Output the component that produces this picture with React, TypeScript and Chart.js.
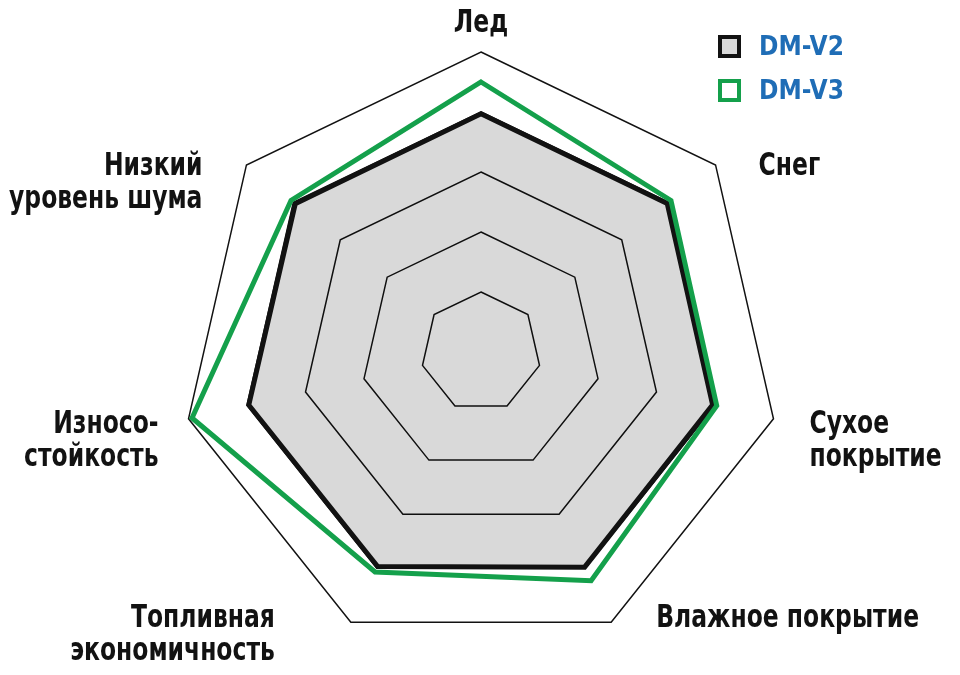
import React, { useEffect, useRef } from 'react';
import { Chart, registerables } from 'chart.js';

Chart.register(...registerables);

// ---- data ----
const categories: (string | string[])[] = [
  'Лед',
  'Снег',
  ['Сухое', 'покрытие'],
  'Влажное покрытие',
  ['Топливная', 'экономичность'],
  ['Износо-', 'стойкость'],
  ['Низкий', 'уровень шума'],
];
const seriesNames = ['DM-V2', 'DM-V3'];
const dmV2 = [3.97, 3.97, 3.96, 3.98, 3.97, 3.97, 3.96];
const dmV3 = [4.5, 4.05, 4.03, 4.23, 4.07, 4.94, 4.05];
const scaleMin = 0;
const scaleMax = 5;
const scaleStep = 1;

// ---- style / layout ----
const LABEL_FONT = "bold 32px 'DejaVu Sans Condensed', 'DejaVu Sans', sans-serif";
const LEGEND_FONT = "'DejaVu Sans Condensed', 'DejaVu Sans', sans-serif";
const LABEL_SQUEEZE = 0.815;
const LABEL_LINE = 33;
const LABEL_ALIGN: CanvasTextAlign[] = ['center', 'left', 'left', 'left', 'right', 'right', 'right'];
const LABEL_DX = [0, 43, 36, 45, -76, -30, -44];
const LABEL_DY = [-20, 10, 14, 5, 5, 14, 10];
const GRAY_FILL = 'rgba(0,0,0,0.15)';
const GREEN = '#14a04b';
const BLUE = '#1f6db6';
const INK = '#121212';

const axisLabelPlugin = {
  id: 'axisLabelPlugin',
  afterDraw(chart: any) {
    const scale = chart.scales.r;
    const ctx: CanvasRenderingContext2D = chart.ctx;
    ctx.save();
    ctx.font = LABEL_FONT;
    ctx.fillStyle = INK;
    ctx.textBaseline = 'alphabetic';
    (chart.data.labels as (string | string[])[]).forEach((label, i) => {
      const p = scale.getPointPosition(i, scale.drawingArea);
      const lines = Array.isArray(label) ? label : [label];
      ctx.textAlign = LABEL_ALIGN[i];
      lines.forEach((line, k) => {
        ctx.save();
        ctx.translate(p.x + LABEL_DX[i], p.y + LABEL_DY[i] + k * LABEL_LINE);
        ctx.scale(LABEL_SQUEEZE, 1);
        ctx.fillText(line, 0, 0);
        ctx.restore();
      });
    });
    ctx.restore();
  },
};

function LegendRow({ name, border, fill }: { name: string; border: string; fill: string }) {
  return (
    <div style={{ display: 'flex', alignItems: 'center', height: 24 }}>
      <div
        style={{
          width: 23,
          height: 23,
          boxSizing: 'border-box',
          border: `4px solid ${border}`,
          background: fill,
        }}
      />
      <span
        style={{
          marginLeft: 18,
          fontFamily: LEGEND_FONT,
          fontWeight: 'bold',
          fontSize: 26,
          color: BLUE,
          lineHeight: '24px',
        }}
      >
        {name}
      </span>
    </div>
  );
}

export default function App() {
  const ref = useRef<HTMLCanvasElement | null>(null);

  useEffect(() => {
    if (!ref.current) return;
    const chart = new Chart(ref.current, {
      type: 'radar',
      data: {
        labels: categories as any,
        datasets: [
          {
            label: seriesNames[0],
            data: dmV2,
            borderColor: INK,
            backgroundColor: GRAY_FILL,
            borderWidth: 5,
            fill: true,
            pointRadius: 0,
            pointHoverRadius: 0,
            borderJoinStyle: 'miter',
            order: 1,
          },
          {
            label: seriesNames[1],
            data: dmV3,
            borderColor: GREEN,
            backgroundColor: 'rgba(0,0,0,0)',
            borderWidth: 5,
            fill: false,
            pointRadius: 0,
            pointHoverRadius: 0,
            borderJoinStyle: 'miter',
            order: 0,
          },
        ],
      },
      options: {
        animation: false,
        responsive: true,
        maintainAspectRatio: false,
        layout: { padding: { left: 2, right: 0, top: 52, bottom: 23 } },
        plugins: {
          legend: { display: false },
          title: { display: false },
          tooltip: { enabled: false },
        },
        scales: {
          r: {
            min: scaleMin,
            max: scaleMax,
            ticks: { display: false, stepSize: scaleStep },
            grid: { color: INK, lineWidth: 1.5 },
            angleLines: { display: false },
            pointLabels: { display: false },
          },
        },
      },
      plugins: [axisLabelPlugin],
    });
    return () => chart.destroy();
  }, []);

  return (
    <div style={{ position: 'fixed', left: 0, top: 0, width: 960, height: 675, background: '#fff' }}>
      <canvas ref={ref} />
      <div style={{ position: 'absolute', left: 718, top: 34 }}>
        <LegendRow name={seriesNames[0]} border={INK} fill="#d9d9d9" />
        <div style={{ height: 20 }} />
        <LegendRow name={seriesNames[1]} border={GREEN} fill="#ffffff" />
      </div>
    </div>
  );
}
